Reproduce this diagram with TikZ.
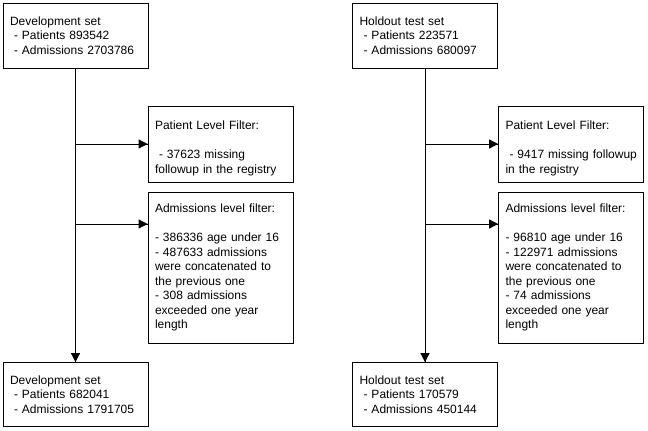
\documentclass[tikz,border=0pt]{standalone}
\usepackage{fontspec}
\setmainfont{Liberation Sans}
\usetikzlibrary{arrows.meta,
                decorations.markings}

\begin{document}
\begin{tikzpicture}[x=1pt, y=-1pt,
       decoration = {markings,
                     mark=at position 1 with {\arrow{Triangle[length=9pt, width=9pt]}}},
       box/.style = {draw, line width=0.8pt, align=left, text width=131pt,
                     inner xsep=7pt, inner ysep=0pt, minimum height=#1,
                     font=\fontsize{12}{14.5}\selectfont},
every edge/.style = {draw, line width=0.8pt, postaction=decorate}
                        ]
\useasboundingbox (0,0) rectangle (648,431);
\node (dev_s) at (75.5,35.5) [box=65pt] {Development set\\ ~- Patients 893542\\ ~- Admissions 2703786};
\node (dev_pf) at (220.5,144) [box=76pt] {\rule{0pt}{17pt}Patient Level Filter:\\[15pt] ~- 37623 missing\\ followup in the registry};
\node (dev_af) at (220.5,267.5) [box=151pt] {Admissions level filter:\\[14.5pt] - 386336 age under 16\\ - 487633 admissions\\ were concatenated to\\ the previous one\\ - 308 admissions\\ exceeded one year\\ length};
\node (dev_e) at (75.5,394.5) [box=64pt] {Development set\\ ~- Patients 682041\\ ~- Admissions 1791705};
\node (hold_s) at (425,35.5) [box=65pt] {Holdout test set\\ ~- Patients 223571\\ ~- Admissions 680097};
\node (hold_pf) at (571,144) [box=76pt] {\rule{0pt}{17pt}Patient Level Filter:\\[15pt] \mbox{~- 9417 missing followup}\\ in the registry};
\node (hold_af) at (571,267.5) [box=151pt] {Admissions level filter:\\[14.5pt] - 96810 age under 16\\ - 122971 admissions\\ were concatenated to\\ the previous one\\ - 74 admissions\\ exceeded one year\\ length};
\node (hold_e) at (425,394.5) [box=64pt] {Holdout test set\\ ~- Patients 170579\\ ~- Admissions 450144};

%

\coordinate (dev_j1) at (dev_s.south |- dev_pf.west);
\coordinate (dev_j2) at (dev_s.south |- 0,224);
\coordinate (hold_j1) at (hold_s.south |- hold_pf.west);
\coordinate (hold_j2) at (hold_s.south |- 0,224);

\path   (dev_s) edge (dev_e)
        (dev_j1) edge (dev_pf)
        (dev_j2) edge (dev_j2 -| dev_af.west)
        (hold_s) edge (hold_e)
        (hold_j1) edge (hold_pf)
        (hold_j2) edge (hold_j2 -| hold_af.west);
\end{tikzpicture}
\end{document}
